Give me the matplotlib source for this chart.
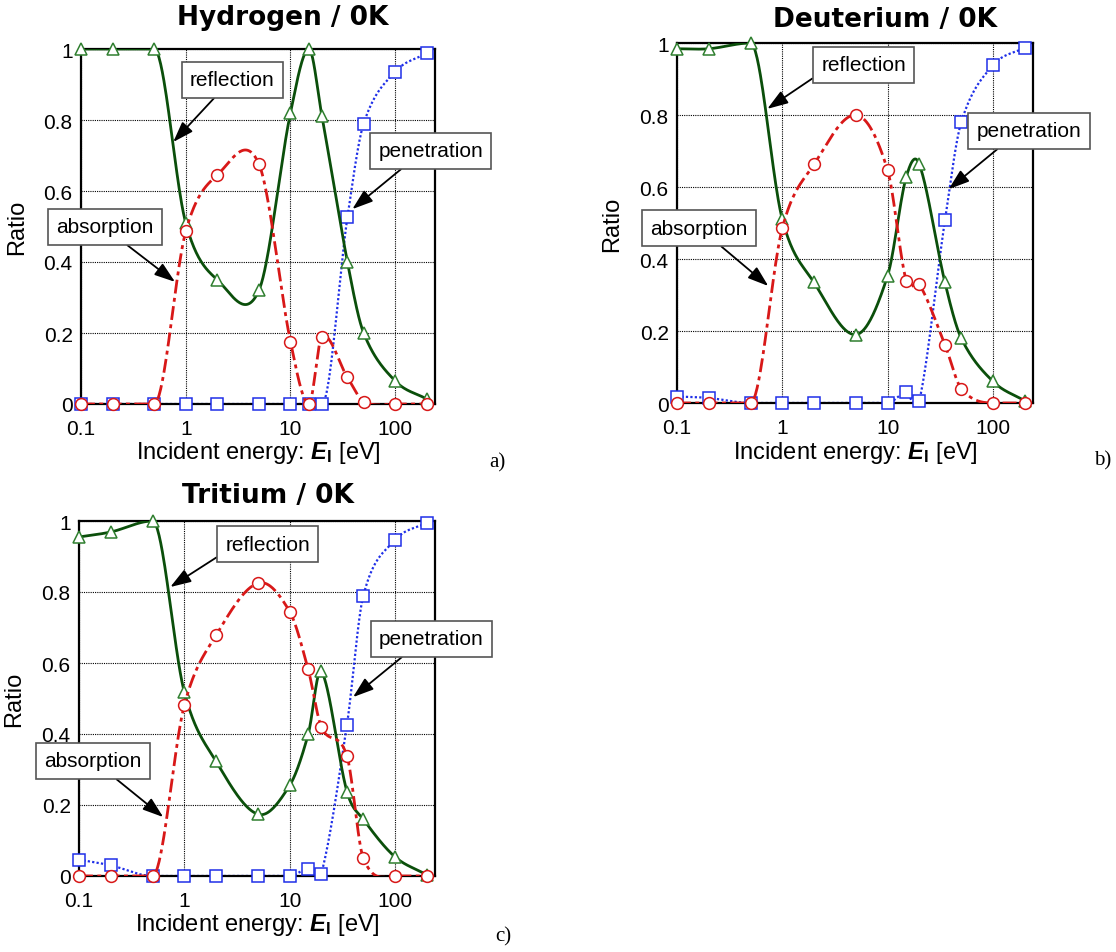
import numpy as np
import matplotlib
matplotlib.use('Agg')
import matplotlib.pyplot as plt

plt.rcParams['font.family'] = ['Liberation Sans', 'DejaVu Sans']
plt.rcParams['mathtext.fontset'] = 'custom'
plt.rcParams['mathtext.rm'] = 'Liberation Sans'
plt.rcParams['mathtext.bf'] = 'Liberation Sans:bold'
plt.rcParams['mathtext.it'] = 'Liberation Sans:italic'
plt.rcParams['mathtext.bfit'] = 'Liberation Sans:bold:italic'

# incident energies [eV]
energy = [0.1, 0.2, 0.5, 1, 2, 5, 10, 15, 20, 35, 50, 100, 200]

# Hydrogen
h_refl = [1.0, 1.0, 1.0, 0.51, 0.35, 0.32, 0.82, 1.0, 0.81, 0.40, 0.20, 0.065, 0.014]
h_abs = [0, 0, 0, 0.486, 0.645, 0.676, 0.176, 0, 0.19, 0.075, 0.007, 0, 0]
h_pen = [0, 0, 0, 0, 0, 0, 0, 0, 0, 0.526, 0.79, 0.936, 0.988]

# Deuterium
d_refl = [0.984, 0.984, 1.0, 0.51, 0.335, 0.19, 0.354, 0.627, 0.663, 0.335, 0.18, 0.06, 0.006]
d_abs = [0, 0, 0, 0.486, 0.663, 0.80, 0.646, 0.34, 0.33, 0.162, 0.04, 0, 0]
d_pen = [0.018, 0.014, 0, 0, 0, 0, 0, 0.03, 0.006, 0.507, 0.78, 0.938, 0.987]

# Tritium
t_refl = [0.955, 0.969, 1.0, 0.518, 0.323, 0.174, 0.255, 0.399, 0.577, 0.238, 0.16, 0.054, 0.004]
t_abs = [0, 0, 0, 0.481, 0.678, 0.825, 0.745, 0.582, 0.42, 0.338, 0.051, 0, 0]
t_pen = [0.046, 0.03, 0, 0, 0, 0, 0, 0.021, 0.007, 0.426, 0.789, 0.946, 0.995]

titles = ['Hydrogen / 0K', 'Deuterium / 0K', 'Tritium / 0K']
panel_tags = ['a)', 'b)', 'c)']
xticks = [0.1, 1, 10, 100]
xtick_labels = ['0.1', '1', '10', '100']
yticks = [0, 0.2, 0.4, 0.6, 0.8, 1]
ytick_labels = ['0', '0.2', '0.4', '0.6', '0.8', '1']

GREEN_LINE = '#0b4f0b'
GREEN_MARK = '#2f7f2f'
RED = '#d81818'
BLUE = '#1f2fe8'


def smooth(x, y, n=40):
    # cubic hermite curve through the points (in log-x space),
    # flat where the value sits on 0 or 1
    lx = np.log10(np.asarray(x, float))
    y = np.asarray(y, float)
    m = np.zeros_like(y)
    m[1:-1] = (y[2:] - y[:-2]) / (lx[2:] - lx[:-2])
    m[0] = (y[1] - y[0]) / (lx[1] - lx[0])
    m[-1] = (y[-1] - y[-2]) / (lx[-1] - lx[-2])
    m[(y <= 0.001) | (y >= 0.999)] = 0
    xs, ys = [], []
    for k in range(len(lx) - 1):
        h = lx[k + 1] - lx[k]
        t = np.linspace(0, 1, n)
        h00 = 2 * t**3 - 3 * t**2 + 1
        h10 = t**3 - 2 * t**2 + t
        h01 = -2 * t**3 + 3 * t**2
        h11 = t**3 - t**2
        xs.append(lx[k] + t * h)
        ys.append(h00 * y[k] + h10 * h * m[k] + h01 * y[k + 1] + h11 * h * m[k + 1])
    return 10 ** np.concatenate(xs), np.concatenate(ys)


def annotate_box(ax, text, xytext, xy, relpos):
    ax.annotate(text, xy=xy, xytext=xytext, fontsize=15, ha='center', va='center',
                annotation_clip=False, zorder=10,
                bbox=dict(boxstyle='square,pad=0.4', fc='white', ec='#555555', lw=1.2),
                arrowprops=dict(arrowstyle='-|>,head_length=0.7,head_width=0.24',
                                color='black', lw=1.3, mutation_scale=18,
                                shrinkA=0, shrinkB=0, relpos=relpos))


fig = plt.figure(figsize=(11.16, 9.53), dpi=100)
axes_pos = [
    [81 / 1116, 1 - 405 / 953, 354 / 1116, 355 / 953],
    [677 / 1116, 1 - 404 / 953, 356 / 1116, 360 / 953],
    [79 / 1116, 1 - 877 / 953, 356 / 1116, 355 / 953],
]
series = [(h_refl, h_abs, h_pen), (d_refl, d_abs, d_pen), (t_refl, t_abs, t_pen)]

# box centre, arrow tip, start point on box
notes = [
    [('reflection', (2.79, 0.913), (0.76, 0.738), (0.38, 0)),
     ('penetration', (218, 0.713), (39, 0.549), (0.32, 0)),
     ('absorption', (0.17, 0.499), (0.79, 0.344), (0.61, 0))],
    [('reflection', (5.9, 0.939), (0.72, 0.817), (0.0, 0.1)),
     ('penetration', (220, 0.756), (38, 0.594), (0.30, 0)),
     ('absorption', (0.162, 0.486), (0.736, 0.325), (0.62, 0))],
    [('reflection', (6.2, 0.935), (0.736, 0.814), (0.0, 0.1)),
     ('penetration', (222, 0.668), (40, 0.504), (0.32, 0)),
     ('absorption', (0.136, 0.324), (0.63, 0.166), (0.63, 0))],
]
title_pos = [(283, 25), (885, 27), (268, 503)]
tag_pos = [(497, 463), (1103, 461), (503, 937)]

for i in range(3):
    ax = fig.add_axes(axes_pos[i])
    refl, absn, pen = series[i]

    xs, ys = smooth(energy, pen)
    ax.plot(xs, ys, color=BLUE, lw=1.6, linestyle=(0, (1, 1)), zorder=2)
    ax.plot(energy, pen, linestyle='none', marker='s', ms=8.5, mfc='white',
            mec=BLUE, mew=1.1, clip_on=False, zorder=3)

    xs, ys = smooth(energy, refl)
    ax.plot(xs, ys, color=GREEN_LINE, lw=2.0, zorder=4)
    ax.plot(energy, refl, linestyle='none', marker='^', ms=8.5, mfc='white',
            mec=GREEN_MARK, mew=1.1, clip_on=False, zorder=5)

    xs, ys = smooth(energy, absn)
    ax.plot(xs, ys, color=RED, lw=2.0, dashes=(5, 1.6, 1.4, 1.6), zorder=6)
    ax.plot(energy, absn, linestyle='none', marker='o', ms=8.5, mfc='white',
            mec=RED, mew=1.1, clip_on=False, zorder=7)

    ax.set_xscale('log')
    ax.set_xlim(0.1, 240)
    ax.set_ylim(0, 1)
    ax.set_xticks(xticks)
    ax.set_xticklabels(xtick_labels)
    ax.set_yticks(yticks)
    ax.set_yticklabels(ytick_labels)
    ax.minorticks_off()
    ax.tick_params(length=0, labelsize=15)
    ax.tick_params(axis='x', pad=11)
    ax.tick_params(axis='y', pad=6)
    ax.grid(True, color='black', linestyle=(0, (1, 1)), lw=0.8)
    for s in ax.spines.values():
        s.set_linewidth(1.6)

    ax.set_ylabel('Ratio', fontsize=17)
    ax.yaxis.set_label_coords(-0.15, 0.5)
    ax.set_xlabel(r'Incident energy: $\mathbfit{E}_{\mathbf{I}}$ [eV]', fontsize=17)
    ax.xaxis.set_label_coords(0.5, -0.1)

    for text, xytext, xy, relpos in notes[i]:
        annotate_box(ax, text, xytext, xy, relpos)

    tx, ty = title_pos[i]
    fig.text(tx / 1116, 1 - ty / 953, titles[i], fontsize=19, fontweight='bold',
             family='DejaVu Sans', ha='center', va='baseline')
    gx, gy = tag_pos[i]
    fig.text(gx / 1116, 1 - gy / 953, panel_tags[i], fontsize=15,
             family='Liberation Serif', ha='center', va='center')

fig.savefig('out.png', dpi=100)
